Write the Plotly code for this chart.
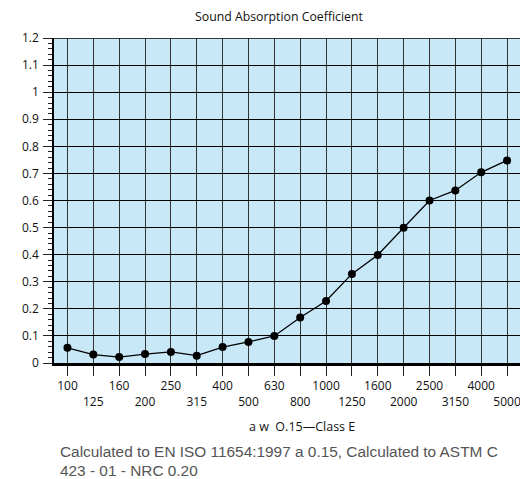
import plotly.graph_objects as go

freqs = ["100", "125", "160", "200", "250", "315", "400", "500", "630", "800",
         "1000", "1250", "1600", "2000", "2500", "3150", "4000", "5000"]
alpha = [0.056, 0.031, 0.022, 0.033, 0.041, 0.027, 0.059, 0.078, 0.10, 0.168,
         0.229, 0.329, 0.399, 0.499, 0.60, 0.637, 0.704, 0.748]
y_ticks = [0, 0.1, 0.2, 0.3, 0.4, 0.5, 0.6, 0.7, 0.8, 0.9, 1, 1.1, 1.2]
y_ticktext = ["0", "0.1", "0.2", "0.3", "0.4", "0.5", "0.6", "0.7", "0.8", "0.9", "1", "1.1", "1.2"]
x_ticktext = [f if i % 2 == 0 else "<br>" + f for i, f in enumerate(freqs)]

title_text = "Sound Absorption Coefficient"
xlabel_text = "a w\u00a0 O.15\u2014Class E"
note_line1 = "Calculated to EN ISO 11654:1997 a 0.15, Calculated to ASTM C"
note_line2 = "423 - 01 - NRC 0.20"

FONT = "Open Sans"
W, H = 520, 479
PL, PR = 54, 520          # plot left/right in px
PW = PR - PL

fig = go.Figure()
fig.add_trace(go.Scatter(
    x=list(range(len(freqs))), y=alpha, mode="lines+markers",
    line=dict(color="black", width=1.3),
    marker=dict(color="black", size=8),
    showlegend=False, hoverinfo="skip", cliponaxis=False))

fig.update_layout(
    width=W, height=H,
    margin=dict(l=PL, r=W - PR, t=38.3, b=116.3, autoexpand=False),
    paper_bgcolor="white", plot_bgcolor="#C8E8F8",
    font=dict(family=FONT, size=12, color="#111"),
    showlegend=False,
)
fig.update_xaxes(
    range=[-0.52, 17.5], automargin=False, tickangle=0,
    tickmode="array", tickvals=list(range(len(freqs))), ticktext=x_ticktext,
    ticks="outside", ticklen=10, tickwidth=1, tickcolor="#222",
    showgrid=True, gridcolor="#333", gridwidth=1,
    showline=True, linecolor="black", linewidth=2.5,
    zeroline=False, tickfont=dict(family=FONT, size=12, color="#111"),
    ticklabelstandoff=0, ticklabeloverflow="allow",
)
fig.update_yaxes(
    range=[0, 1.2], automargin=False,
    tickmode="array", tickvals=y_ticks, ticktext=y_ticktext,
    ticks="outside", ticklen=9, tickwidth=1, tickcolor="#222",
    minor=dict(dtick=0.02, ticks="outside", ticklen=4, tickcolor="#222", showgrid=False),
    showgrid=True, gridcolor="black", gridwidth=1,
    showline=True, linecolor="black", linewidth=1.5,
    zeroline=False, tickfont=dict(family=FONT, size=12, color="#111"),
    ticklabelstandoff=2,
)
fig.add_shape(type="line", xref="paper", yref="y", x0=0, x1=1, y0=1.2, y1=1.2,
              line=dict(color="black", width=1.5))

def px(xs):
    # screen x -> paper fraction
    return (xs - PL) / PW

fig.add_annotation(text=title_text, xref="paper", yref="paper", x=px(279.5), y=1,
                   yshift=21.6, showarrow=False, font=dict(family=FONT, size=12.3, color="#111"),
                   xanchor="center", yanchor="middle")
fig.add_annotation(text=xlabel_text, xref="paper", yref="paper", x=px(301.5), y=0,
                   yshift=-63.3, showarrow=False, font=dict(family=FONT, size=12.5, color="#111"),
                   xanchor="center", yanchor="middle")
fig.add_annotation(text=note_line1, xref="paper", yref="paper", x=px(58), y=0,
                   yshift=-88, showarrow=False, align="left",
                   font=dict(family="Liberation Sans", size=15.4, color="#555"),
                   xanchor="left", yanchor="middle")
fig.add_annotation(text=note_line2, xref="paper", yref="paper", x=px(58), y=0,
                   yshift=-107.5, showarrow=False, align="left",
                   font=dict(family="Liberation Sans", size=15.4, color="#555"),
                   xanchor="left", yanchor="middle")

fig.write_html("out.html", config={"displayModeBar": False},
               post_script="document.body.style.margin='0';")
